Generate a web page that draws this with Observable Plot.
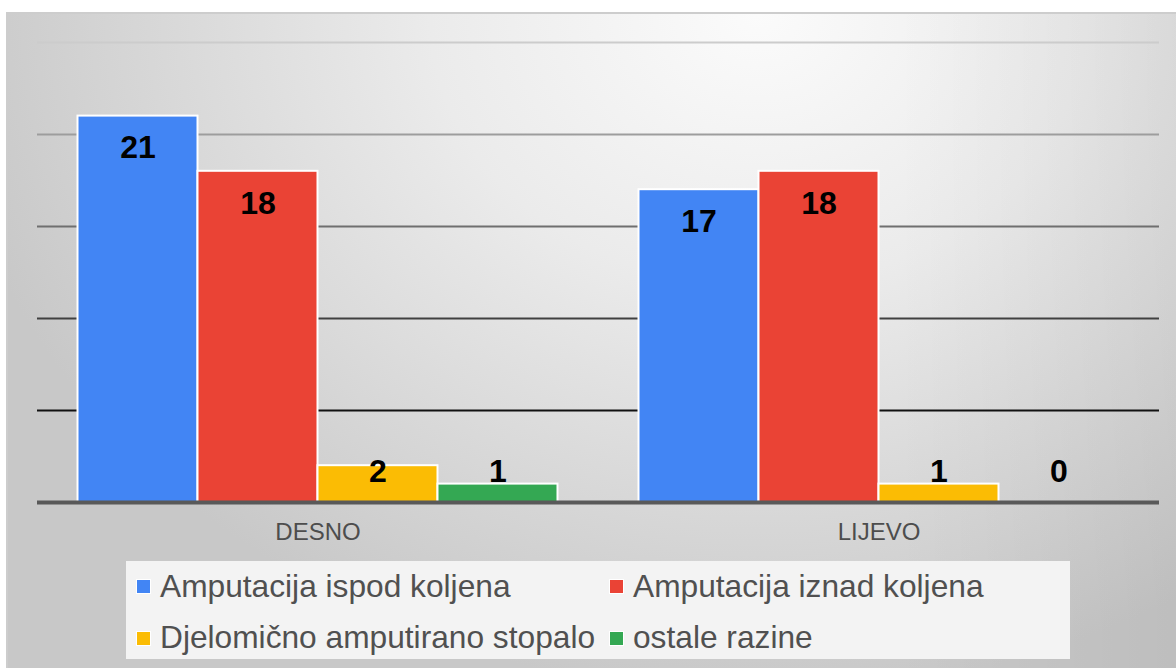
<!DOCTYPE html>
<html>
<head>
<meta charset="utf-8">
<script src="https://cdn.jsdelivr.net/npm/d3@7"></script>
<script src="https://cdn.jsdelivr.net/npm/@observablehq/plot@0.6"></script>
<style>
  html, body { margin: 0; padding: 0; background: #ffffff; overflow: hidden; }
  #wrap { position: relative; width: 1176px; height: 668px; font-family: "Liberation Sans", Arial, sans-serif; }
  #panel {
    position: absolute; left: 6px; top: 12px; right: 0; bottom: 0;
    border-top: 2px solid #cdcdcd; border-left: 2px solid #cdcdcd;
    background:
      linear-gradient(to right, rgba(0,0,0,0) 76%, rgba(0,0,0,0.05) 100%),
      radial-gradient(ellipse 820px 680px at 750px 0px, #fbfbfb 0%, #ebebeb 40%, #c8c8c8 100%);
  }
  .layer { position: absolute; left: 0; top: 0; }
  #legend {
    position: absolute; left: 126px; top: 561px; width: 944px; height: 98px;
    background: #f3f3f3;
  }
  .sw { position: absolute; width: 13px; height: 13px; border: 1.5px solid #ffffff; }
  .lab { position: absolute; font-size: 31.7px; line-height: 32px; color: #505050; white-space: nowrap; }
</style>
</head>
<body>
<div id="wrap">
  <div id="panel"></div>
  <div id="grid" class="layer"></div>
  <div id="chart" class="layer"></div>
  <div id="base" class="layer"></div>
  <div id="legend"></div>
</div>
<script>
// ---- data ----
const groups = ["DESNO", "LIJEVO"];
const series = ["Amputacija ispod koljena", "Amputacija iznad koljena", "Djelomično amputirano stopalo", "ostale razine"];
const desnoValues = [21, 18, 2, 1];
const lijevoValues = [17, 18, 1, 0];
const gridTicks = [5, 10, 15, 20, 25];
const seriesColors = ["#4285f4", "#ea4335", "#fbbc04", "#34a853"];

const valuesByGroup = { DESNO: desnoValues, LIJEVO: lijevoValues };
const data = groups.flatMap(g => series.map((s, j) => ({ group: g, series: s, value: valuesByGroup[g][j] })));

const gridColor = d3.scaleLinear().domain([5, 25]).range(["#111111", "#cccccc"]);
const font = '"Liberation Sans", Arial, sans-serif';

const frame = {
  width: 1176, height: 668,
  marginTop: 42, marginBottom: 166, marginLeft: 37, marginRight: 17,
  style: { background: "transparent", fontFamily: font },
  y: { domain: [0, 25], axis: null }
};

// gridlines layer (below bars)
const gridPlot = Plot.plot({
  ...frame,
  marks: [Plot.ruleY(gridTicks, { y: d => d, stroke: d => gridColor(d), strokeWidth: 2 })]
});
document.getElementById("grid").appendChild(gridPlot);

// bars, labels, category axis
const plot = Plot.plot({
  ...frame,
  fx: { domain: groups, paddingInner: 0.1444, paddingOuter: 0.0722, round: false, label: null, axis: null },
  x: { domain: series, padding: 0, round: false, axis: null },
  color: { domain: series, range: seriesColors },
  marks: [
    Plot.barY(data, { fx: "group", x: "series", y: "value", fill: "series", stroke: "white", strokeWidth: 2 }),
    Plot.text(data, {
      filter: d => d.value >= 3, fx: "group", x: "series", y: "value",
      text: d => String(d.value), dy: 32, fontSize: 32, fontWeight: "bold", fill: "#000000"
    }),
    Plot.text(data, {
      filter: d => d.value < 3, fx: "group", x: "series", frameAnchor: "bottom",
      text: d => String(d.value), dy: -21, fontSize: 32, fontWeight: "bold", fill: "#000000"
    }),
    Plot.axisFx({ anchor: "bottom", tickSize: 0, tickPadding: 20, fontSize: 24, fill: "#4d4d4d", label: null })
  ]
});
document.getElementById("chart").appendChild(plot);

// baseline layer (above bars)
const basePlot = Plot.plot({
  ...frame,
  marks: [Plot.ruleY([0], { stroke: "#595959", strokeWidth: 4 })]
});
document.getElementById("base").appendChild(basePlot);

// ---- legend (built from the same series / colour scale) ----
const color = plot.scale("color");
const legend = document.getElementById("legend");
const colX = [10, 483];
const rowSwY = [18, 70];
const rowTextY = [9, 60];
series.forEach((s, i) => {
  const col = i % 2, row = Math.floor(i / 2);
  const sw = document.createElement("div");
  sw.className = "sw";
  sw.style.left = colX[col] + "px";
  sw.style.top = rowSwY[row] + "px";
  sw.style.background = color.apply(s);
  legend.appendChild(sw);
  const lab = document.createElement("div");
  lab.className = "lab";
  lab.style.left = (colX[col] + 24) + "px";
  lab.style.top = rowTextY[row] + "px";
  lab.textContent = s;
  legend.appendChild(lab);
});
</script>
</body>
</html>
